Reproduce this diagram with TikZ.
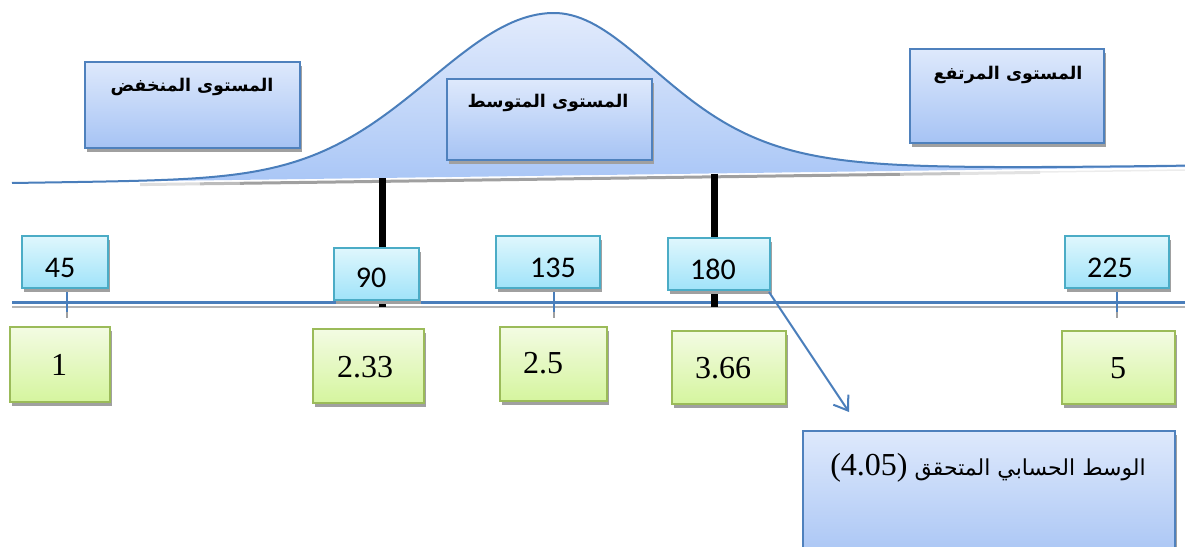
\documentclass[tikz,border=0pt]{standalone}
\usepackage{fontspec}
\setmainfont{Liberation Serif}
\newfontfamily\arabicfont[Script=Arabic]{DejaVu Sans}
\newfontfamily\calfont{Carlito}
\TeXXeTstate=1
\usetikzlibrary{shadows,arrows.meta}
\definecolor{boxborder}{HTML}{4F81BD}
\definecolor{boxtop}{HTML}{DEE9FC}
\definecolor{boxbot}{HTML}{A6C3F4}
\definecolor{cyanborder}{HTML}{4BACC6}
\definecolor{cyantop}{HTML}{DFF7FD}
\definecolor{cyanbot}{HTML}{A0E3F9}
\definecolor{greenborder}{HTML}{9BBB59}
\definecolor{greentop}{HTML}{F3FBE3}
\definecolor{greenbot}{HTML}{D5F59E}
\definecolor{bellline}{HTML}{4A7EBB}
\definecolor{belltop}{HTML}{E2EBFC}
\definecolor{bellbot}{HTML}{A9C6F6}
\definecolor{shadowgray}{HTML}{A0A0A0}
\tikzset{
  shadowed/.style={drop shadow={shadow xshift=2pt, shadow yshift=-4pt, fill=shadowgray, opacity=1}},
  levelbox/.style={draw=boxborder, line width=2.2pt, top color=boxtop, bottom color=boxbot, shadowed, inner sep=0pt},
  valbox/.style={draw=cyanborder, line width=2pt, top color=cyantop, bottom color=cyanbot, shadowed, inner sep=0pt},
  scorebox/.style={draw=greenborder, line width=2pt, top color=greentop, bottom color=greenbot, shadowed, inner sep=0pt},
  titletxt/.style={font=\arabicfont\bfseries\fontsize{17.5}{20}\selectfont, inner sep=0pt},
  valtxt/.style={font=\calfont\fontsize{30}{34}\selectfont, inner sep=0pt},
  scoretxt/.style={font=\fontsize{32}{36}\selectfont, inner sep=0pt},
  restxt/.style={font=\arabicfont\fontsize{22}{26}\selectfont, inner sep=0pt},
  blackbar/.style={line width=7pt, black},
  tickline/.style={line width=2pt, bellline},
  pointer/.style={line width=2pt, bellline, -{Straight Barb[length=13pt, width=18pt, line width=2pt]}},
  bellshadow/.style={line width=3pt}
}
\newcommand{\bellcurve}{plot[domain=12:1185, samples=240, variable=\x] ({\x},{183-0.0136*(\x-10)-162.6*exp(-((\x-553)/100)*((\x-553)/100)/(2*((\x<553) ? 1.22*1.22 : (1.05+0.025*((\x-553)/100)*((\x-553)/100))*(1.05+0.025*((\x-553)/100)*((\x-553)/100)))))})}
\begin{document}
\begin{tikzpicture}[x=1pt,y=-1pt]
\useasboundingbox (0,0) rectangle (1185,546);
\clip (0,0) rectangle (1185,546);
% bell
\path[top color=belltop, bottom color=bellbot] \bellcurve -- (1185,167) -- (12,183) -- cycle;
% bell shadow
\draw[bellshadow, shadowgray!35] (140,184.6) -- (200,183.8);
\draw[bellshadow, shadowgray!70] (200,183.8) -- (240,183.3);
\draw[bellshadow, shadowgray] (240,183.3) -- (900,174.3);
\draw[bellshadow, shadowgray!60] (900,174.3) -- (960,173.5);
\draw[bellshadow, shadowgray!30] (960,173.5) -- (1040,172.4);
\draw[line width=1.5pt, shadowgray!20] (1040,172) -- (1185,170);
\draw[bellline, line width=2pt] \bellcurve;
% level boxes
\node[levelbox, minimum width=215pt, minimum height=86pt] (low) at (192.5,105) {};
\node[levelbox, minimum width=205pt, minimum height=81pt] (mid) at (549.5,119.5) {};
\node[levelbox, minimum width=194pt, minimum height=94pt] (high) at (1007,96) {};
\node[titletxt] (lowtxt) at (192,87) {\beginR المستوى المنخفض\endR};
\node[titletxt] (midtxt) at (548,103) {\beginR المستوى المتوسط\endR};
\node[titletxt] (hightxt) at (1008,75) {\beginR المستوى المرتفع\endR};
% axis lines
\draw[shadowgray!80, line width=2pt] (12,306.5) -- (1185,306.5);
\draw[bellline, line width=2.5pt] (12,302.5) -- (1185,302.5);
% black bars
\draw[blackbar] (382,178) -- (382,307);
\draw[blackbar] (714,173.5) -- (714,307);
% ticks
\foreach \x in {67,554,1117}{
  \draw[tickline] (\x,291) -- (\x,312);
  \draw[shadowgray, line width=2pt] (\x,312) -- (\x,318);
}
% value boxes
\node[valbox, minimum width=86pt, minimum height=52pt] (c45) at (65,262) {};
\node[valbox, minimum width=85pt, minimum height=52pt] (c90) at (376.5,274) {};
\node[valbox, minimum width=104pt, minimum height=52pt] (c135) at (548,262) {};
\node[valbox, minimum width=102pt, minimum height=52pt] (c180) at (719,264) {};
\node[valbox, minimum width=104pt, minimum height=52pt] (c225) at (1117,262) {};
\node[valtxt] (t45) at (60,268) {45};
\node[valtxt] (t90) at (371,278) {90};
\node[valtxt] (t135) at (553,268) {135};
\node[valtxt] (t180) at (713,269) {180};
\node[valtxt] (t225) at (1110,268) {225};
% score boxes
\node[scorebox, minimum width=100pt, minimum height=75pt] (g1) at (60,364.5) {};
\node[scorebox, minimum width=111pt, minimum height=74pt] (g233) at (368.5,366) {};
\node[scorebox, minimum width=107pt, minimum height=74pt] (g25) at (553.5,364) {};
\node[scorebox, minimum width=114pt, minimum height=73pt] (g366) at (729,367.5) {};
\node[scorebox, minimum width=113pt, minimum height=73pt] (g5) at (1118.5,367.5) {};
\node[scoretxt] (s1) at (59,365) {1};
\node[scoretxt] (s233) at (365,367) {2.33};
\node[scoretxt] (s25) at (543,363) {2.5};
\node[scoretxt] (s366) at (723,368) {3.66};
\node[scoretxt] (s5) at (1118,368) {5};
% result box
\node[levelbox, minimum width=372pt, minimum height=135pt] (res) at (989,498.5) {};
\node[restxt] (restext) at (988,468) {\beginR الوسط الحسابي المتحقق {\rmfamily\fontsize{32}{36}\selectfont\beginL(4.05)\endL}\endR};
% pointer
\coordinate (tip) at (849,412);
\draw[pointer] ([xshift=-2pt,yshift=-1pt]c180.south east) -- (tip);
\end{tikzpicture}
\end{document}
